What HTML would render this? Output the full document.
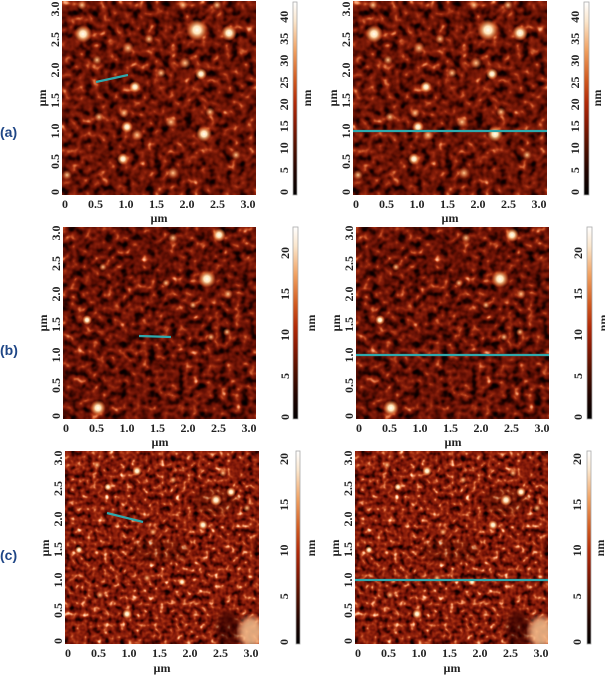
<!DOCTYPE html>
<html>
<head>
<meta charset="utf-8">
<style>
html,body{margin:0;padding:0;background:#fff;}
body{width:605px;height:675px;overflow:hidden;}
svg{display:block;}
.t{font-family:"Liberation Serif",serif;font-weight:bold;font-size:12px;fill:#222;}
.lab{font-family:"Liberation Sans",sans-serif;font-weight:bold;font-size:14px;fill:#1f4686;}
</style>
</head>
<body>
<svg width="605" height="675" viewBox="0 0 605 675" xmlns="http://www.w3.org/2000/svg">
<defs>
  <filter id="fa" x="0" y="0" width="1" height="1" color-interpolation-filters="sRGB">
    <feTurbulence type="fractalNoise" baseFrequency="0.13" numOctaves="2" seed="5"/>
    <feGaussianBlur stdDeviation="0.7"/>
    <feColorMatrix type="matrix" values="1 0 0 0 0  1 0 0 0 0  1 0 0 0 0  0 0 0 0 1"/>
    <feComponentTransfer>
      <feFuncR type="table" tableValues="0 0 0 0 0.03 0.08 0.14 0.22 0.3 0.37 0.43 0.48 0.53 0.6 0.7 0.82 0.93 1 1 1 1"/>
      <feFuncG type="table" tableValues="0 0 0 0 0 0 0.01 0.02 0.04 0.06 0.08 0.1 0.12 0.16 0.24 0.38 0.55 0.72 0.88 1 1"/>
      <feFuncB type="table" tableValues="0 0 0 0 0 0 0 0 0.01 0.01 0.02 0.03 0.04 0.06 0.1 0.2 0.36 0.56 0.78 0.95 1"/>
    </feComponentTransfer>
  </filter>
  <filter id="fb" x="0" y="0" width="1" height="1" color-interpolation-filters="sRGB">
    <feTurbulence type="fractalNoise" baseFrequency="0.14" numOctaves="2" seed="11"/>
    <feGaussianBlur stdDeviation="0.7"/>
    <feColorMatrix type="matrix" values="1 0 0 0 0  1 0 0 0 0  1 0 0 0 0  0 0 0 0 1"/>
    <feComponentTransfer>
      <feFuncR type="table" tableValues="0 0 0 0 0.03 0.07 0.13 0.2 0.28 0.35 0.41 0.46 0.51 0.58 0.68 0.8 0.92 1 1 1 1"/>
      <feFuncG type="table" tableValues="0 0 0 0 0 0 0.01 0.02 0.04 0.05 0.07 0.09 0.11 0.15 0.22 0.35 0.52 0.7 0.86 1 1"/>
      <feFuncB type="table" tableValues="0 0 0 0 0 0 0 0 0.01 0.01 0.02 0.03 0.04 0.05 0.09 0.18 0.34 0.54 0.76 0.95 1"/>
    </feComponentTransfer>
  </filter>
  <filter id="fc" x="0" y="0" width="1" height="1" color-interpolation-filters="sRGB">
    <feTurbulence type="fractalNoise" baseFrequency="0.18" numOctaves="2" seed="23"/>
    <feGaussianBlur stdDeviation="0.6"/>
    <feColorMatrix type="matrix" values="1 0 0 0 0  1 0 0 0 0  1 0 0 0 0  0 0 0 0 1"/>
    <feComponentTransfer>
      <feFuncR type="table" tableValues="0 0 0 0.03 0.08 0.15 0.23 0.32 0.4 0.47 0.53 0.58 0.64 0.72 0.83 0.94 1 1 1 1 1"/>
      <feFuncG type="table" tableValues="0 0 0 0 0 0.01 0.02 0.04 0.06 0.08 0.11 0.14 0.18 0.26 0.4 0.58 0.76 0.9 1 1 1"/>
      <feFuncB type="table" tableValues="0 0 0 0 0 0 0 0.01 0.02 0.03 0.04 0.05 0.07 0.12 0.22 0.4 0.6 0.8 0.95 1 1"/>
    </feComponentTransfer>
  </filter>
  <filter id="bl2"><feGaussianBlur stdDeviation="3"/></filter>
  <radialGradient id="bw">
    <stop offset="0" stop-color="#fffdf2"/>
    <stop offset="0.35" stop-color="#ffe2b4"/>
    <stop offset="0.7" stop-color="#f08a48" stop-opacity="0.6"/>
    <stop offset="1" stop-color="#d05020" stop-opacity="0"/>
  </radialGradient>
  <radialGradient id="bo">
    <stop offset="0" stop-color="#ffc890"/>
    <stop offset="0.45" stop-color="#e88850" stop-opacity="0.7"/>
    <stop offset="1" stop-color="#c04818" stop-opacity="0"/>
  </radialGradient>
  <linearGradient id="cb" x1="0" y1="0" x2="0" y2="1">
    <stop offset="0" stop-color="#ffffff"/>
    <stop offset="0.1" stop-color="#fbe6cc"/>
    <stop offset="0.25" stop-color="#f0a060"/>
    <stop offset="0.4" stop-color="#d05a20"/>
    <stop offset="0.52" stop-color="#b02a08"/>
    <stop offset="0.62" stop-color="#8a1a04"/>
    <stop offset="0.75" stop-color="#501000"/>
    <stop offset="0.88" stop-color="#200400"/>
    <stop offset="1" stop-color="#000000"/>
  </linearGradient>
</defs>

<rect width="605" height="675" fill="#fff"/>

<!-- ============ ROW A ============ -->
<svg x="62" y="1" width="194" height="194">
  <rect width="194" height="194" filter="url(#fa)"/>
  <circle cx="21" cy="33" r="9" fill="url(#bw)"/>
  <circle cx="135" cy="29" r="11" fill="url(#bw)"/>
  <circle cx="167" cy="32" r="8" fill="url(#bw)"/>
  <circle cx="66" cy="47" r="6" fill="url(#bo)"/>
  <circle cx="35" cy="59" r="5" fill="url(#bo)"/>
  <circle cx="123" cy="62" r="6" fill="url(#bo)"/>
  <circle cx="139" cy="73" r="6" fill="url(#bw)"/>
  <circle cx="99" cy="72" r="5" fill="url(#bo)"/>
  <circle cx="73" cy="86" r="6" fill="url(#bw)"/>
  <circle cx="62" cy="112" r="5" fill="url(#bo)"/>
  <circle cx="37" cy="116" r="5" fill="url(#bo)"/>
  <circle cx="109" cy="121" r="6" fill="url(#bo)"/>
  <circle cx="148" cy="111" r="5" fill="url(#bo)"/>
  <circle cx="65" cy="126" r="6" fill="url(#bw)"/>
  <circle cx="75" cy="134" r="6" fill="url(#bo)"/>
  <circle cx="142" cy="133" r="8" fill="url(#bw)"/>
  <circle cx="61" cy="158" r="6" fill="url(#bw)"/>
  <circle cx="111" cy="172" r="6" fill="url(#bo)"/>
  <circle cx="87" cy="38" r="5" fill="url(#bo)"/>
  <circle cx="20" cy="4" r="5" fill="url(#bo)"/>
  <circle cx="121" cy="4" r="5" fill="url(#bo)"/>
  <circle cx="155" cy="4" r="5" fill="url(#bo)"/>
  <circle cx="5" cy="174" r="5" fill="url(#bo)"/>
  <circle cx="174" cy="154" r="5" fill="url(#bo)"/>
</svg>
<svg x="353" y="1" width="194" height="194">
  <rect width="194" height="194" filter="url(#fa)"/>
  <circle cx="21" cy="33" r="9" fill="url(#bw)"/>
  <circle cx="135" cy="29" r="11" fill="url(#bw)"/>
  <circle cx="167" cy="32" r="8" fill="url(#bw)"/>
  <circle cx="66" cy="47" r="6" fill="url(#bo)"/>
  <circle cx="35" cy="59" r="5" fill="url(#bo)"/>
  <circle cx="123" cy="62" r="6" fill="url(#bo)"/>
  <circle cx="139" cy="73" r="6" fill="url(#bw)"/>
  <circle cx="99" cy="72" r="5" fill="url(#bo)"/>
  <circle cx="73" cy="86" r="6" fill="url(#bw)"/>
  <circle cx="62" cy="112" r="5" fill="url(#bo)"/>
  <circle cx="37" cy="116" r="5" fill="url(#bo)"/>
  <circle cx="109" cy="121" r="6" fill="url(#bo)"/>
  <circle cx="148" cy="111" r="5" fill="url(#bo)"/>
  <circle cx="65" cy="126" r="6" fill="url(#bw)"/>
  <circle cx="75" cy="134" r="6" fill="url(#bo)"/>
  <circle cx="142" cy="133" r="8" fill="url(#bw)"/>
  <circle cx="61" cy="158" r="6" fill="url(#bw)"/>
  <circle cx="111" cy="172" r="6" fill="url(#bo)"/>
  <circle cx="87" cy="38" r="5" fill="url(#bo)"/>
  <circle cx="20" cy="4" r="5" fill="url(#bo)"/>
  <circle cx="121" cy="4" r="5" fill="url(#bo)"/>
  <circle cx="155" cy="4" r="5" fill="url(#bo)"/>
  <circle cx="5" cy="174" r="5" fill="url(#bo)"/>
  <circle cx="174" cy="154" r="5" fill="url(#bo)"/>
</svg>
<line x1="96" y1="82" x2="128" y2="75" stroke="#2fa8ac" stroke-width="2.2"/>
<line x1="353" y1="131" x2="547" y2="131" stroke="#2fa8ac" stroke-width="2.2"/>

<g class="t" text-anchor="middle">
  <text x="65" y="208">0</text><text x="95.5" y="208">0.5</text><text x="126" y="208">1.0</text><text x="156.5" y="208">1.5</text><text x="187" y="208">2.0</text><text x="217.5" y="208">2.5</text><text x="248" y="208">3.0</text>
  <text x="159" y="222">µm</text>
  <text transform="translate(55,192) rotate(-90)" dy="0.35em">0</text>
  <text transform="translate(55,161.5) rotate(-90)" dy="0.35em">0.5</text>
  <text transform="translate(55,131) rotate(-90)" dy="0.35em">1.0</text>
  <text transform="translate(55,100.5) rotate(-90)" dy="0.35em">1.5</text>
  <text transform="translate(55,70) rotate(-90)" dy="0.35em">2.0</text>
  <text transform="translate(55,39.5) rotate(-90)" dy="0.35em">2.5</text>
  <text transform="translate(55,9) rotate(-90)" dy="0.35em">3.0</text>
  <text transform="translate(42,98) rotate(-90)" dy="0.35em">µm</text>
</g>
<g class="t" text-anchor="middle">
  <text x="356" y="208">0</text><text x="386.5" y="208">0.5</text><text x="417" y="208">1.0</text><text x="447.5" y="208">1.5</text><text x="478" y="208">2.0</text><text x="508.5" y="208">2.5</text><text x="539" y="208">3.0</text>
  <text x="450" y="222">µm</text>
  <text transform="translate(346,192) rotate(-90)" dy="0.35em">0</text>
  <text transform="translate(346,161.5) rotate(-90)" dy="0.35em">0.5</text>
  <text transform="translate(346,131) rotate(-90)" dy="0.35em">1.0</text>
  <text transform="translate(346,100.5) rotate(-90)" dy="0.35em">1.5</text>
  <text transform="translate(346,70) rotate(-90)" dy="0.35em">2.0</text>
  <text transform="translate(346,39.5) rotate(-90)" dy="0.35em">2.5</text>
  <text transform="translate(346,9) rotate(-90)" dy="0.35em">3.0</text>
  <text transform="translate(333,98) rotate(-90)" dy="0.35em">µm</text>
</g>
<rect x="293" y="2" width="4" height="193" fill="url(#cb)" stroke="#aaa" stroke-width="0.8"/>
<rect x="584" y="2" width="5" height="193" fill="url(#cb)" stroke="#aaa" stroke-width="0.8"/>
<g class="t" text-anchor="middle">
  <text transform="translate(284,192) rotate(-90)" dy="0.35em">0</text>
  <text transform="translate(284,170.1) rotate(-90)" dy="0.35em">5</text>
  <text transform="translate(284,148.2) rotate(-90)" dy="0.35em">10</text>
  <text transform="translate(284,126.3) rotate(-90)" dy="0.35em">15</text>
  <text transform="translate(284,104.4) rotate(-90)" dy="0.35em">20</text>
  <text transform="translate(284,82.5) rotate(-90)" dy="0.35em">25</text>
  <text transform="translate(284,60.6) rotate(-90)" dy="0.35em">30</text>
  <text transform="translate(284,38.7) rotate(-90)" dy="0.35em">35</text>
  <text transform="translate(284,16.8) rotate(-90)" dy="0.35em">40</text>
  <text transform="translate(307,98) rotate(-90)" dy="0.35em">nm</text>
  <text transform="translate(575,192) rotate(-90)" dy="0.35em">0</text>
  <text transform="translate(575,170.1) rotate(-90)" dy="0.35em">5</text>
  <text transform="translate(575,148.2) rotate(-90)" dy="0.35em">10</text>
  <text transform="translate(575,126.3) rotate(-90)" dy="0.35em">15</text>
  <text transform="translate(575,104.4) rotate(-90)" dy="0.35em">20</text>
  <text transform="translate(575,82.5) rotate(-90)" dy="0.35em">25</text>
  <text transform="translate(575,60.6) rotate(-90)" dy="0.35em">30</text>
  <text transform="translate(575,38.7) rotate(-90)" dy="0.35em">35</text>
  <text transform="translate(575,16.8) rotate(-90)" dy="0.35em">40</text>
  <text transform="translate(597,98) rotate(-90)" dy="0.35em">nm</text>
</g>
<text class="lab" x="0" y="137">(a)</text>

<!-- ============ ROW B ============ -->
<svg x="63" y="227" width="193" height="192">
  <rect width="193" height="192" filter="url(#fb)"/>
  <circle cx="144" cy="52" r="9" fill="url(#bw)"/>
  <circle cx="156" cy="8" r="7" fill="url(#bw)"/>
  <circle cx="35" cy="181" r="8" fill="url(#bw)"/>
  <circle cx="24" cy="93" r="5" fill="url(#bw)"/>
  <circle cx="165" cy="67" r="5" fill="url(#bo)"/>
  <circle cx="110" cy="11" r="5" fill="url(#bo)"/>
  <circle cx="40" cy="40" r="4" fill="url(#bo)"/>
  <circle cx="103" cy="56" r="4" fill="url(#bo)"/>
  <circle cx="130" cy="78" r="4" fill="url(#bo)"/>
  <circle cx="164" cy="105" r="4" fill="url(#bo)"/>
  <circle cx="148" cy="110" r="4" fill="url(#bo)"/>
</svg>
<svg x="356" y="227" width="193" height="192">
  <rect width="193" height="192" filter="url(#fb)"/>
  <circle cx="144" cy="52" r="9" fill="url(#bw)"/>
  <circle cx="156" cy="8" r="7" fill="url(#bw)"/>
  <circle cx="35" cy="181" r="8" fill="url(#bw)"/>
  <circle cx="24" cy="93" r="5" fill="url(#bw)"/>
  <circle cx="165" cy="67" r="5" fill="url(#bo)"/>
  <circle cx="110" cy="11" r="5" fill="url(#bo)"/>
  <circle cx="40" cy="40" r="4" fill="url(#bo)"/>
  <circle cx="103" cy="56" r="4" fill="url(#bo)"/>
  <circle cx="130" cy="78" r="4" fill="url(#bo)"/>
  <circle cx="164" cy="105" r="4" fill="url(#bo)"/>
  <circle cx="148" cy="110" r="4" fill="url(#bo)"/>
</svg>
<line x1="139" y1="336" x2="171" y2="337" stroke="#2fa8ac" stroke-width="2.2"/>
<line x1="356" y1="355" x2="549" y2="355" stroke="#2fa8ac" stroke-width="2.2"/>

<g class="t" text-anchor="middle">
  <text x="66" y="432">0</text><text x="96.5" y="432">0.5</text><text x="127" y="432">1.0</text><text x="157.5" y="432">1.5</text><text x="188" y="432">2.0</text><text x="218.5" y="432">2.5</text><text x="249" y="432">3.0</text>
  <text x="160" y="446">µm</text>
  <text transform="translate(56,416) rotate(-90)" dy="0.35em">0</text>
  <text transform="translate(56,385.5) rotate(-90)" dy="0.35em">0.5</text>
  <text transform="translate(56,355) rotate(-90)" dy="0.35em">1.0</text>
  <text transform="translate(56,324.5) rotate(-90)" dy="0.35em">1.5</text>
  <text transform="translate(56,294) rotate(-90)" dy="0.35em">2.0</text>
  <text transform="translate(56,263.5) rotate(-90)" dy="0.35em">2.5</text>
  <text transform="translate(56,233) rotate(-90)" dy="0.35em">3.0</text>
  <text transform="translate(43,323) rotate(-90)" dy="0.35em">µm</text>

  <text x="359" y="432">0</text><text x="389.5" y="432">0.5</text><text x="420" y="432">1.0</text><text x="450.5" y="432">1.5</text><text x="481" y="432">2.0</text><text x="511.5" y="432">2.5</text><text x="542" y="432">3.0</text>
  <text x="453" y="446">µm</text>
  <text transform="translate(349,416) rotate(-90)" dy="0.35em">0</text>
  <text transform="translate(349,385.5) rotate(-90)" dy="0.35em">0.5</text>
  <text transform="translate(349,355) rotate(-90)" dy="0.35em">1.0</text>
  <text transform="translate(349,324.5) rotate(-90)" dy="0.35em">1.5</text>
  <text transform="translate(349,294) rotate(-90)" dy="0.35em">2.0</text>
  <text transform="translate(349,263.5) rotate(-90)" dy="0.35em">2.5</text>
  <text transform="translate(349,233) rotate(-90)" dy="0.35em">3.0</text>
  <text transform="translate(336,323) rotate(-90)" dy="0.35em">µm</text>
</g>
<rect x="293" y="227" width="5" height="192" fill="url(#cb)" stroke="#aaa" stroke-width="0.8"/>
<rect x="587" y="227" width="5" height="192" fill="url(#cb)" stroke="#aaa" stroke-width="0.8"/>
<g class="t" text-anchor="middle">
  <text transform="translate(285,417) rotate(-90)" dy="0.35em">0</text>
  <text transform="translate(285,376) rotate(-90)" dy="0.35em">5</text>
  <text transform="translate(285,335) rotate(-90)" dy="0.35em">10</text>
  <text transform="translate(285,294) rotate(-90)" dy="0.35em">15</text>
  <text transform="translate(285,253) rotate(-90)" dy="0.35em">20</text>
  <text transform="translate(311,323) rotate(-90)" dy="0.35em">nm</text>
  <text transform="translate(578,417) rotate(-90)" dy="0.35em">0</text>
  <text transform="translate(578,376) rotate(-90)" dy="0.35em">5</text>
  <text transform="translate(578,335) rotate(-90)" dy="0.35em">10</text>
  <text transform="translate(578,294) rotate(-90)" dy="0.35em">15</text>
  <text transform="translate(578,253) rotate(-90)" dy="0.35em">20</text>
  <text transform="translate(603,323) rotate(-90)" dy="0.35em">nm</text>
</g>
<text class="lab" x="0" y="355">(b)</text>

<!-- ============ ROW C ============ -->
<svg x="65" y="451" width="194" height="193">
  <rect width="194" height="193" filter="url(#fc)"/>
  <ellipse cx="150" cy="50" rx="22" ry="14" fill="#3a0800" opacity="0.25" filter="url(#bl2)"/>
  <ellipse cx="95" cy="100" rx="30" ry="12" fill="#3a0800" opacity="0.2" filter="url(#bl2)"/>
  <ellipse cx="163" cy="178" rx="12" ry="18" fill="#2a0400" opacity="0.6" filter="url(#bl2)"/>
  <ellipse cx="186" cy="181" rx="12" ry="15" fill="#f0b888" opacity="0.9" filter="url(#bl2)"/>
  <circle cx="151" cy="49" r="6" fill="url(#bw)"/>
  <circle cx="138" cy="74" r="5" fill="url(#bw)"/>
  <circle cx="72" cy="20" r="5" fill="url(#bw)"/>
  <circle cx="43" cy="36" r="4" fill="url(#bw)"/>
  <circle cx="14" cy="99" r="4" fill="url(#bw)"/>
  <circle cx="117" cy="131" r="4" fill="url(#bw)"/>
  <circle cx="62" cy="163" r="5" fill="url(#bw)"/>
  <circle cx="166" cy="41" r="5" fill="url(#bw)"/>
  <circle cx="108" cy="29" r="4" fill="url(#bo)"/>
  <circle cx="32" cy="14" r="4" fill="url(#bo)"/>
  <circle cx="158" cy="22" r="4" fill="url(#bo)"/>
  <circle cx="182" cy="57" r="4" fill="url(#bo)"/>
  <circle cx="88" cy="81" r="4" fill="url(#bo)"/>
  <circle cx="82" cy="127" r="4" fill="url(#bo)"/>
  <circle cx="35" cy="144" r="4" fill="url(#bo)"/>
</svg>
<svg x="355" y="451" width="193" height="193">
  <rect width="193" height="193" filter="url(#fc)"/>
  <ellipse cx="150" cy="50" rx="22" ry="14" fill="#3a0800" opacity="0.25" filter="url(#bl2)"/>
  <ellipse cx="95" cy="100" rx="30" ry="12" fill="#3a0800" opacity="0.2" filter="url(#bl2)"/>
  <ellipse cx="163" cy="178" rx="12" ry="18" fill="#2a0400" opacity="0.6" filter="url(#bl2)"/>
  <ellipse cx="186" cy="181" rx="12" ry="15" fill="#f0b888" opacity="0.9" filter="url(#bl2)"/>
  <circle cx="151" cy="49" r="6" fill="url(#bw)"/>
  <circle cx="138" cy="74" r="5" fill="url(#bw)"/>
  <circle cx="72" cy="20" r="5" fill="url(#bw)"/>
  <circle cx="43" cy="36" r="4" fill="url(#bw)"/>
  <circle cx="14" cy="99" r="4" fill="url(#bw)"/>
  <circle cx="117" cy="131" r="4" fill="url(#bw)"/>
  <circle cx="62" cy="163" r="5" fill="url(#bw)"/>
  <circle cx="166" cy="41" r="5" fill="url(#bw)"/>
  <circle cx="108" cy="29" r="4" fill="url(#bo)"/>
  <circle cx="32" cy="14" r="4" fill="url(#bo)"/>
  <circle cx="158" cy="22" r="4" fill="url(#bo)"/>
  <circle cx="182" cy="57" r="4" fill="url(#bo)"/>
  <circle cx="88" cy="81" r="4" fill="url(#bo)"/>
  <circle cx="82" cy="127" r="4" fill="url(#bo)"/>
  <circle cx="35" cy="144" r="4" fill="url(#bo)"/>
</svg>
<line x1="107" y1="513" x2="143" y2="522" stroke="#2fa8ac" stroke-width="2.2"/>
<line x1="355" y1="580" x2="548" y2="580" stroke="#2fa8ac" stroke-width="2.2"/>

<g class="t" text-anchor="middle">
  <text x="68" y="657">0</text><text x="98.5" y="657">0.5</text><text x="129" y="657">1.0</text><text x="159.5" y="657">1.5</text><text x="190" y="657">2.0</text><text x="220.5" y="657">2.5</text><text x="251" y="657">3.0</text>
  <text x="162" y="672">µm</text>
  <text transform="translate(58,641) rotate(-90)" dy="0.35em">0</text>
  <text transform="translate(58,610.5) rotate(-90)" dy="0.35em">0.5</text>
  <text transform="translate(58,580) rotate(-90)" dy="0.35em">1.0</text>
  <text transform="translate(58,549.5) rotate(-90)" dy="0.35em">1.5</text>
  <text transform="translate(58,519) rotate(-90)" dy="0.35em">2.0</text>
  <text transform="translate(58,488.5) rotate(-90)" dy="0.35em">2.5</text>
  <text transform="translate(58,458) rotate(-90)" dy="0.35em">3.0</text>
  <text transform="translate(45,548) rotate(-90)" dy="0.35em">µm</text>

  <text x="358" y="657">0</text><text x="388.5" y="657">0.5</text><text x="419" y="657">1.0</text><text x="449.5" y="657">1.5</text><text x="480" y="657">2.0</text><text x="510.5" y="657">2.5</text><text x="541" y="657">3.0</text>
  <text x="452" y="672">µm</text>
  <text transform="translate(348,641) rotate(-90)" dy="0.35em">0</text>
  <text transform="translate(348,610.5) rotate(-90)" dy="0.35em">0.5</text>
  <text transform="translate(348,580) rotate(-90)" dy="0.35em">1.0</text>
  <text transform="translate(348,549.5) rotate(-90)" dy="0.35em">1.5</text>
  <text transform="translate(348,519) rotate(-90)" dy="0.35em">2.0</text>
  <text transform="translate(348,488.5) rotate(-90)" dy="0.35em">2.5</text>
  <text transform="translate(348,458) rotate(-90)" dy="0.35em">3.0</text>
  <text transform="translate(335,548) rotate(-90)" dy="0.35em">µm</text>
</g>
<rect x="296" y="451" width="4" height="193" fill="url(#cb)" stroke="#aaa" stroke-width="0.8"/>
<rect x="587" y="451" width="4" height="193" fill="url(#cb)" stroke="#aaa" stroke-width="0.8"/>
<g class="t" text-anchor="middle">
  <text transform="translate(284,642) rotate(-90)" dy="0.35em">0</text>
  <text transform="translate(284,596.25) rotate(-90)" dy="0.35em">5</text>
  <text transform="translate(284,550.5) rotate(-90)" dy="0.35em">10</text>
  <text transform="translate(284,504.75) rotate(-90)" dy="0.35em">15</text>
  <text transform="translate(284,459) rotate(-90)" dy="0.35em">20</text>
  <text transform="translate(311,548) rotate(-90)" dy="0.35em">nm</text>
  <text transform="translate(577,642) rotate(-90)" dy="0.35em">0</text>
  <text transform="translate(577,596.25) rotate(-90)" dy="0.35em">5</text>
  <text transform="translate(577,550.5) rotate(-90)" dy="0.35em">10</text>
  <text transform="translate(577,504.75) rotate(-90)" dy="0.35em">15</text>
  <text transform="translate(577,459) rotate(-90)" dy="0.35em">20</text>
  <text transform="translate(600,548) rotate(-90)" dy="0.35em">nm</text>
</g>
<text class="lab" x="0" y="560">(c)</text>
</svg>
</body>
</html>
